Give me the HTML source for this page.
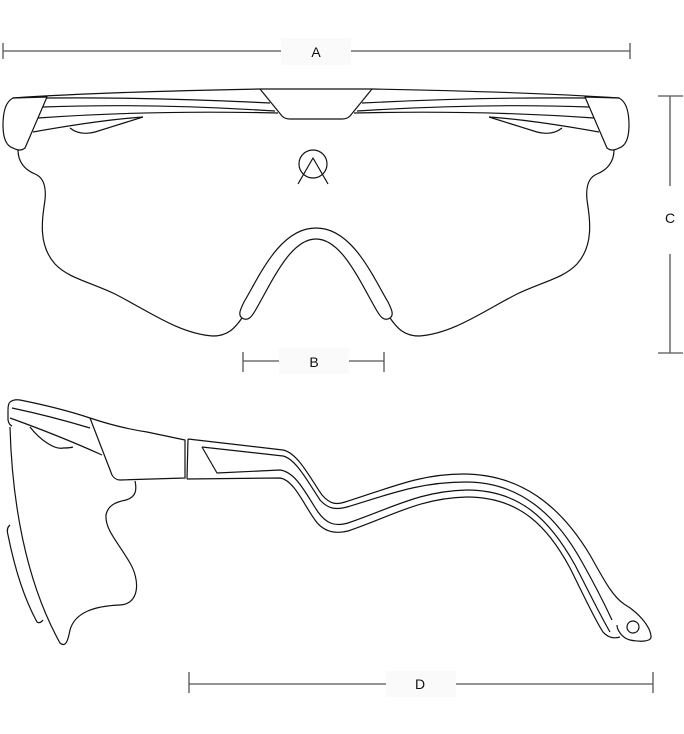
<!DOCTYPE html>
<html><head><meta charset="utf-8"><style>
html,body{margin:0;padding:0;background:#fff;width:684px;height:734px;overflow:hidden}
svg{display:block}
text{font-family:"Liberation Sans",sans-serif;font-size:14px;fill:#111}
</style></head><body>
<svg width="684" height="734" viewBox="0 0 684 734" xmlns="http://www.w3.org/2000/svg">
<g stroke="#555" stroke-width="1.3" fill="none">
<line x1="3" y1="43" x2="3" y2="59"/><line x1="630" y1="43" x2="630" y2="59"/>
<line x1="3" y1="51" x2="630" y2="51"/>
<line x1="243" y1="352" x2="243" y2="372"/><line x1="384" y1="352" x2="384" y2="372"/>
<line x1="243" y1="361" x2="384" y2="361"/>
<line x1="658" y1="96" x2="683" y2="96"/><line x1="658" y1="353" x2="683" y2="353"/>
<line x1="670" y1="96" x2="670" y2="353"/>
<line x1="189" y1="672" x2="189" y2="693"/><line x1="653" y1="672" x2="653" y2="693"/>
<line x1="189" y1="684" x2="653" y2="684"/>
</g>
<g fill="#fafafa">
<rect x="281" y="38" width="70" height="27"/>
<rect x="279" y="348" width="70" height="26"/>
<rect x="657" y="186" width="26" height="68" fill="#fff"/>
<rect x="386" y="671" width="70" height="26"/>
</g>
<text x="316" y="57" text-anchor="middle">A</text>
<text x="314" y="367" text-anchor="middle">B</text>
<text x="670" y="223" text-anchor="middle">C</text>
<text x="420" y="689" text-anchor="middle">D</text>

<g stroke="#111" stroke-width="1.2" fill="none" stroke-linejoin="round">
<g id="half">
<path d="M13,98 Q100,92 260,89 L316,89"/>
<path d="M260,89 L282,116 Q285,119 290,119 L316,119"/>
<path d="M47,98 Q150,97 270,103"/>
<path d="M43,107 Q150,103 275,111"/>
<path d="M38,118 Q150,110 278,113"/>
<path d="M33,132 Q100,120 143,117"/>
<path d="M70,128 Q80,136 95,132 L143,117"/>
<path d="M13,98 L47,97 L25,148 Q20,152 13,148 Q3,145 3,125 Q3,103 13,98 Z"/>
<path d="M18,150 C18,162 25,170 35,174 C45,178 46,190 45,200 C42,220 38,245 55,264 C68,278 90,282 115,294 C150,312 180,334 213,336 C228,336 235,328 242,318"/>
<path d="M242,318 C238,315 240,310 244,302 C260,275 280,228 316,228"/>
<path d="M242,318 C248,322 252,316 255,311 C272,282 290,239 316,239"/>
</g>
<use href="#half" transform="translate(632,0) scale(-1,1)"/>
<circle cx="313" cy="164" r="14"/>
<path d="M298,184 L313,158 L328,184"/>

<path d="M10,402 Q8,404 8,410 L8,420 Q9,425 12,426"/>
<path d="M10,402 Q14,399 20,400 Q60,408 90,418 Q120,428 147,432 L185,440 L185,478 L120,480 Q115,480 112,475 L90,418"/>
<path d="M12,408 Q50,416 90,428"/>
<path d="M10,418 Q60,436 102,455"/>
<path d="M10,427 C12,500 25,580 60,643 C66,648 68,640 70,630 C75,612 95,606 120,605 C140,604 140,580 130,563 C118,542 105,530 106,515 C108,505 116,502 126,500 C136,497 137,490 135,481"/>
<path d="M10,525 Q6,528 8,535 C15,570 25,600 37,622 Q40,624 43,620"/>
<path d="M30,427 C40,440 55,450 63,448 Q70,448 73,447"/>
<path d="M188,439 L187,479"/>
<path d="M188,439 L283,450 C298,453 310,478 322,495 C330,504 336,505 345,502 C390,488 420,474 463,474 C520,474 560,505 590,555 C603,578 612,596 624,604 C638,612 650,626 651,636 C652,642 640,642 630,640 C622,638 617,630 617,625"/>
<path d="M202,447 L283,456 C296,459 308,482 320,500 C328,509 336,510 347,507 C390,494 420,482 466,482 C520,482 556,515 582,562 C595,585 605,605 612,620"/>
<path d="M202,447 L217,473 L280,470 C296,472 306,494 318,512 C326,523 334,527 348,523 C392,508 420,491 467,490 C520,490 550,520 575,565 C588,590 600,615 610,632"/>
<path d="M187,479 L280,478 C294,480 304,505 315,520 C322,530 332,535 348,531 C392,516 420,498 467,497 C520,497 548,527 570,568 C582,592 595,620 603,632 Q610,640 620,637"/>
<circle cx="633" cy="627" r="6"/>
</g>
</svg>
</body></html>
